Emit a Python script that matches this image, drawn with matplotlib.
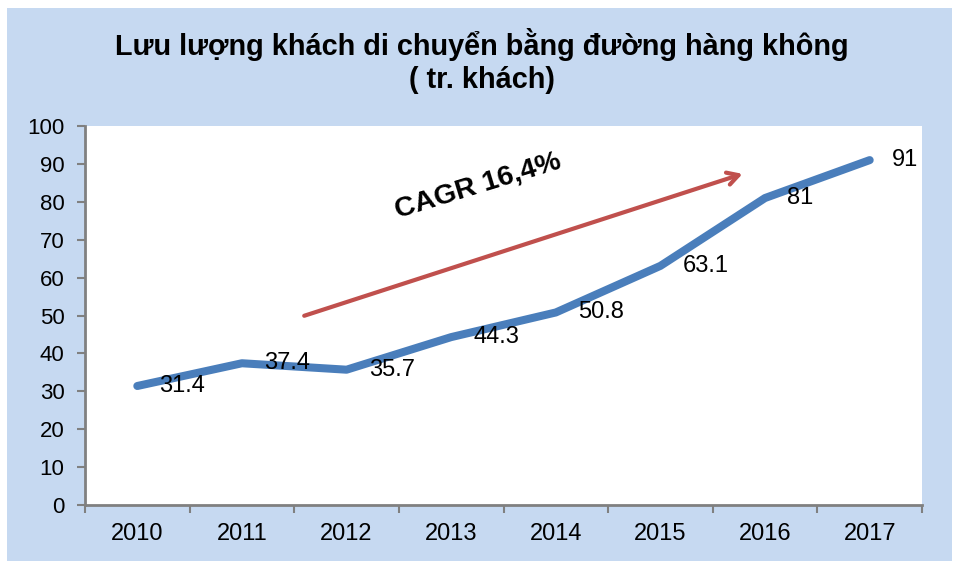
import matplotlib
matplotlib.use("Agg")
import matplotlib.pyplot as plt

years = ["2010", "2011", "2012", "2013", "2014", "2015", "2016", "2017"]
passengers = [31.4, 37.4, 35.7, 44.3, 50.8, 63.1, 81, 91]
value_labels = ["31.4", "37.4", "35.7", "44.3", "50.8", "63.1", "81", "91"]
title = "Lưu lượng khách di chuyển bằng đường hàng không\n( tr. khách)"
cagr_text = "CAGR 16,4%"

plt.rcParams['font.family'] = ['Liberation Sans', 'DejaVu Sans']

W, H = 963, 561
fig = plt.figure(figsize=(W / 100, H / 100), dpi=100)
fig.patch.set_facecolor("white")
bg = plt.Rectangle((7 / W, 0), (952 - 7) / W, (561 - 8) / H,
                   transform=fig.transFigure, facecolor="#C6D9F1",
                   edgecolor="none", zorder=-10)
fig.patches.append(bg)

ax = fig.add_axes([85 / W, 1 - 505 / H, (922 - 85) / W, (505 - 126) / H])
ax.set_facecolor("white")
x = list(range(len(years)))
ax.plot(x, passengers, color="#4A7EBB", linewidth=5.8, solid_capstyle="round",
        solid_joinstyle="round", zorder=3)
for xi, v, lab in zip(x, passengers, value_labels):
    ax.annotate(lab, (xi, v), xytext=(16, 0), textcoords="offset points",
                ha="left", va="center", fontsize=17, color="black", zorder=4)

ax.set_xlim(-0.5, len(years) - 0.5)
ax.set_ylim(0, 100)
ax.set_yticks(range(0, 101, 10))
ax.set_xticks([i - 0.5 for i in range(len(years) + 1)], minor=False)
ax.set_xticklabels([])
ax.set_xticks(x, minor=True)
ax.set_xticklabels(years, minor=True)
ax.tick_params(axis="x", which="minor", length=0, labelsize=17, pad=13)
ax.tick_params(axis="x", which="major", length=5.5, width=1.5, color="#808080", direction="out")
ax.tick_params(axis="y", length=5.8, width=1.5, color="#808080", direction="out", labelsize=16, pad=9)
for s in ["top", "right"]:
    ax.spines[s].set_visible(False)
for s in ["left", "bottom"]:
    ax.spines[s].set_color("#808080")
    ax.spines[s].set_linewidth(2)

# CAGR arrow (data coordinates)
ax.annotate("", xy=(5.81, 87.6), xytext=(1.57, 49.7),
            arrowprops=dict(arrowstyle="->,head_length=0.8,head_width=0.45",
                            color="#C0504D", lw=3), zorder=2)
ax.text(3.26, 84.2, cagr_text, rotation=17, fontsize=20.5, fontweight="bold",
        ha="center", va="center", rotation_mode="anchor")

fig.text(0.5, 1 - 61 / H, title, ha="center", va="center",
         fontsize=20.8, fontweight="bold", linespacing=1.2)

fig.savefig("out.png", dpi=100)
